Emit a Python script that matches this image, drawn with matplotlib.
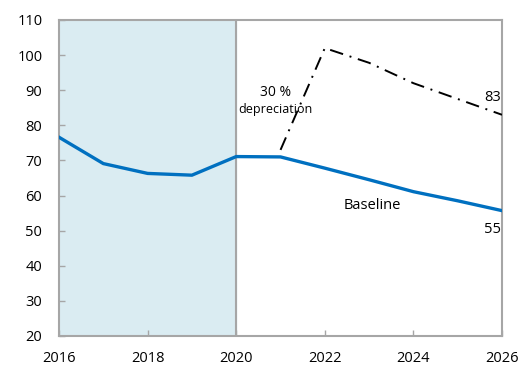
import matplotlib.pyplot as plt

years = [2016, 2017, 2018, 2019, 2020, 2021, 2022, 2023, 2024, 2025, 2026]
baseline = [76.6, 69.1, 66.3, 65.8, 71.1, 71.0, 67.8, 64.5, 61.1, 58.5, 55.7]

shock_years = [2021, 2022, 2023, 2024, 2025, 2026]
shock = [73.0, 102.0, 97.8, 92.0, 87.5, 83.0]

hist_end = 2020

plt.rcParams['font.family'] = ['Open Sans', 'DejaVu Sans']

fig = plt.figure(figsize=(5.27, 3.68), dpi=100)
ax = fig.add_axes([0.112, 0.087, 0.8406, 0.8587])

grey = '#A6A6A6'
ax.axvspan(2016, hist_end, color='#DAECF2', zorder=0)
ax.axvline(hist_end, color=grey, lw=1.5, zorder=1)

ax.plot(years, baseline, color='#0070C0', lw=2.4, solid_joinstyle='round', zorder=3)
ax.plot(shock_years, shock, color='black', lw=1.4, dashes=(7, 3.5, 1, 3.5), zorder=3)

# scenario and end-point labels
ax.text(2020.88, 89.4, '30 %', fontsize=10, ha='center', va='center')
ax.text(2020.88, 84.4, 'depreciation', fontsize=9, ha='center', va='center')
ax.text(2025.78, 88.0, f'{shock[-1]:.0f}', fontsize=10.5, ha='center', va='center')
ax.text(2025.78, 50.2, f'{int(baseline[-1])}', fontsize=10.5, ha='center', va='center')
ax.text(2023.07, 57.2, 'Baseline', fontsize=10.5, ha='center', va='center')

ax.set_xlim(2016, 2026)
ax.set_ylim(20, 110)
ax.set_xticks(range(2016, 2027, 2))
ax.set_yticks(range(20, 111, 10))

for s in ax.spines.values():
    s.set_color(grey)
    s.set_linewidth(1.5)

ax.tick_params(axis='both', direction='in', color=grey, length=4, width=1,
               labelsize=10.5)
ax.tick_params(axis='y', pad=12)
ax.tick_params(axis='x', pad=11)

fig.savefig('out.png', dpi=100)
